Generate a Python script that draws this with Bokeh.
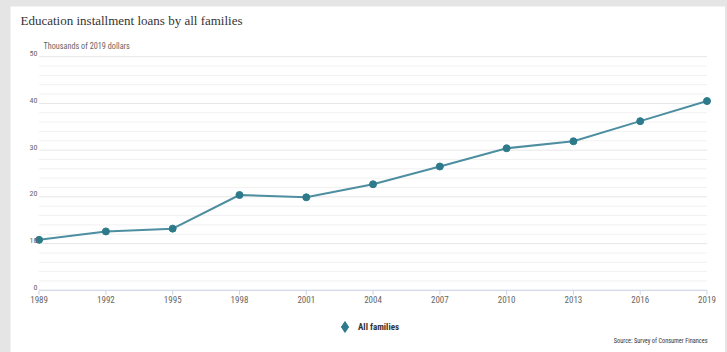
from bokeh.plotting import figure
from bokeh.models import (ColumnDataSource, Range1d, LabelSet, Label,
                          Legend, LegendItem)
from bokeh.layouts import column
from bokeh.embed import file_html
from bokeh.resources import INLINE
from bokeh.core.properties import value

# Survey years and mean education installment loans (thousands of 2019 dollars)
years = [1989, 1992, 1995, 1998, 2001, 2004, 2007, 2010, 2013, 2016, 2019]
all_families = [10.8, 12.6, 13.2, 20.4, 19.9, 22.7, 26.5, 30.4, 31.9, 36.2, 40.5]

# Axis ticks and their labels
x_ticks = years
x_tick_labels = ["1989", "1992", "1995", "1998", "2001", "2004", "2007",
                 "2010", "2013", "2016", "2019"]
y_major = [0, 10, 20, 30, 40, 50]
y_major_labels = ["0", "10", "20", "30", "40", "50"]
y_minor = [2, 4, 6, 8, 12, 14, 16, 18, 22, 24, 26, 28, 32, 34, 36, 38, 42, 44, 46, 48]

NARROW = "'Liberation Sans Narrow', 'Arial Narrow', 'Roboto Condensed', sans-serif"
SERIF = "'Liberation Serif', 'DejaVu Serif', serif"
LINE_COLOR = "#4d8fa1"
MARK_COLOR = "#2d7a8b"

# The plotting frame fills the whole card; ranges leave room for the
# heading above and the axis labels, legend and source line below.
p = figure(width=715, height=346, margin=(6, 2, 0, 10),
           x_range=Range1d(1987.715, 2019.831), y_range=Range1d(-13.31, 60.74),
           output_backend="svg", toolbar_location=None, title=None,
           min_border=0)
p.background_fill_color = "white"
p.border_fill_color = "white"
p.outline_line_color = None
p.xgrid.visible = False
p.ygrid.visible = False
p.xaxis.visible = False
p.yaxis.visible = False

# Horizontal gridlines spanning the survey years
x0, x1 = years[0], years[-1]
p.segment(x0=[x0] * len(y_minor), x1=[x1] * len(y_minor), y0=y_minor, y1=y_minor,
          line_color="#f1f1f1", line_width=1)
p.segment(x0=[x0] * len(y_major), x1=[x1] * len(y_major), y0=y_major, y1=y_major,
          line_color="#e6e6e6", line_width=1)
# Category axis line and its tick marks
p.segment(x0=[x0], x1=[x1], y0=[y_major[0]], y1=[y_major[0]],
          line_color="#ccd6eb", line_width=1)
p.segment(x0=x_ticks, x1=x_ticks, y0=[y_major[0]] * len(x_ticks),
          y1=[y_major[0] - 1.0] * len(x_ticks), line_color="#ccd6eb", line_width=1)

# Tick labels
xsrc = ColumnDataSource(dict(x=x_ticks, text=x_tick_labels))
p.add_layout(LabelSet(x="x", y=53.5, text="text", source=xsrc, y_units="screen",
                      text_align="center", text_baseline="middle",
                      text_font=value(NARROW), text_font_size="9px",
                      text_color="#666666"))
ysrc = ColumnDataSource(dict(y=y_major, text=y_major_labels))
p.add_layout(LabelSet(x=27, y="y", text="text", source=ysrc, x_units="screen",
                      y_offset=3, text_align="right", text_baseline="middle",
                      text_font=value(NARROW), text_font_size="8px",
                      text_color="#666666"))

# Series
src = ColumnDataSource(dict(x=years, y=all_families))
p.line("x", "y", source=src, line_color=LINE_COLOR, line_width=2)
p.scatter("x", "y", source=src, marker="circle", size=7,
          fill_color=MARK_COLOR, line_color=MARK_COLOR)
# Zero-sized diamonds: they only supply the legend's key symbol
key = p.scatter("x", "y", source=src, marker="diamond", size=0,
                fill_color=MARK_COLOR, line_color=MARK_COLOR)

legend = Legend(items=[LegendItem(label="All families", renderers=[key])],
                location=(321, 12), orientation="horizontal",
                glyph_width=27, glyph_height=27, label_standoff=-6,
                padding=0, margin=0, spacing=0,
                border_line_color=None, background_fill_alpha=0,
                label_text_font=NARROW, label_text_font_size="9px",
                label_text_font_style="bold", label_text_color="#333333")
p.add_layout(legend, "center")

# Heading, unit note and source
p.add_layout(Label(x=10, y=332.5, text="Education installment loans by all families",
                   x_units="screen", y_units="screen", text_baseline="middle",
                   text_font=SERIF, text_font_size="13px", text_color="#333333"))
p.add_layout(Label(x=33, y=307, text="Thousands of 2019 dollars",
                   x_units="screen", y_units="screen", text_baseline="middle",
                   text_font=NARROW, text_font_size="8.2px", text_color="#666666"))
p.add_layout(Label(x=697, y=12, text="Source: Survey of Consumer Finances",
                   x_units="screen", y_units="screen", text_baseline="middle",
                   text_align="right",
                   text_font=NARROW, text_font_size="6.3px", text_color="#333333"))

layout = column(p, width=727, height=352, styles={"background-color": "#e5e5e5"})

open("out.html", "w").write(file_html(layout, INLINE))
